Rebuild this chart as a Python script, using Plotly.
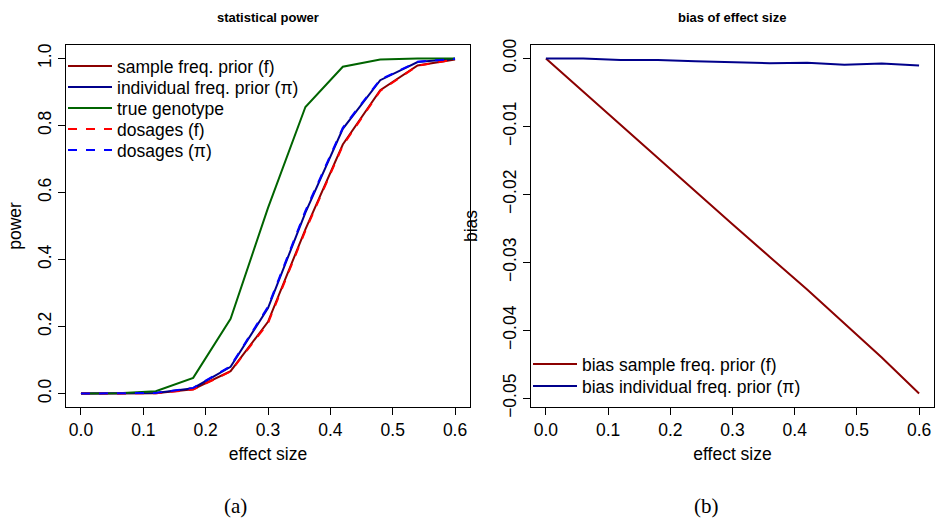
import plotly.graph_objects as go

effect_size = [0.0, 0.06, 0.12, 0.18, 0.24, 0.30, 0.36, 0.42, 0.48, 0.54, 0.60]

power_sample_freq = [0.0, 0.0, 0.001, 0.013, 0.067, 0.214, 0.490, 0.743, 0.905, 0.979, 0.997]
power_individual_freq = [0.0, 0.0, 0.002, 0.016, 0.080, 0.255, 0.540, 0.790, 0.935, 0.989, 0.999]
power_true_genotype = [0.0, 0.001, 0.007, 0.047, 0.223, 0.554, 0.855, 0.975, 0.997, 1.0, 1.0]
power_dosages_f = [0.0, 0.0, 0.001, 0.012, 0.066, 0.210, 0.486, 0.740, 0.903, 0.978, 0.997]
power_dosages_pi = [0.0, 0.0, 0.002, 0.017, 0.082, 0.259, 0.545, 0.793, 0.937, 0.990, 0.999]

bias_sample_freq = [0.0, -0.0049, -0.0098, -0.0146, -0.0195, -0.0244, -0.0292, -0.0340, -0.0390, -0.0440, -0.0493]
bias_individual_freq = [0.0, 0.0, -0.00025, -0.00025, -0.0004, -0.0006, -0.0007, -0.00065, -0.00095, -0.00075, -0.00105]

x_ticks = [0.0, 0.1, 0.2, 0.3, 0.4, 0.5, 0.6]
x_tick_labels = ["0.0", "0.1", "0.2", "0.3", "0.4", "0.5", "0.6"]
power_ticks = [0.0, 0.2, 0.4, 0.6, 0.8, 1.0]
power_tick_labels = ["0.0", "0.2", "0.4", "0.6", "0.8", "1.0"]
bias_ticks = [0.0, -0.01, -0.02, -0.03, -0.04, -0.05]
bias_tick_labels = ["0.00", "\u22120.01", "\u22120.02", "\u22120.03", "\u22120.04", "\u22120.05"]

FONT = "Liberation Sans, Arial, Helvetica, sans-serif"
FS = 17.5
W, H = 935, 522


def px_x(p):
    return p / W


def px_y(p):
    return 1 - p / H


fig = go.Figure()

# each legend entry gets its own legend box so rows can be spaced like the original
legend_specs = []


def add(x, y, name, color, dash, xa, ya, legend, lx, ly):
    fig.add_trace(go.Scatter(x=x, y=y, mode="lines", name=name,
                             line=dict(color=color, width=2, dash=dash),
                             xaxis=xa, yaxis=ya, legend=legend))
    legend_specs.append((legend, lx, ly))


add(effect_size, power_sample_freq, "sample freq. prior (f)", "#8B0000", "solid", "x", "y", "legend", 63, 66)
add(effect_size, power_individual_freq, "individual freq. prior (\u03c0)", "#00008B", "solid", "x", "y", "legend2", 63, 87)
add(effect_size, power_true_genotype, "true genotype", "#006400", "solid", "x", "y", "legend3", 63, 108)
add(effect_size, power_dosages_f, "dosages (f)", "#FF0000", "dash", "x", "y", "legend4", 63, 129)
add(effect_size, power_dosages_pi, "dosages (\u03c0)", "#0000FF", "dash", "x", "y", "legend5", 63, 150)

add(effect_size, bias_sample_freq, "bias sample freq. prior (f)", "#8B0000", "solid", "x2", "y2", "legend6", 528, 364)
add(effect_size, bias_individual_freq, "bias individual freq. prior (\u03c0)", "#00008B", "solid", "x2", "y2", "legend7", 528, 386)

ydom = [px_y(407), px_y(45)]

axis_common = dict(showline=True, mirror=True, linecolor="black", linewidth=1,
                   ticks="outside", ticklen=7, tickcolor="black", tickwidth=1,
                   showgrid=False, zeroline=False, automargin=False,
                   tickfont=dict(family=FONT, size=FS, color="black"))

bias_min = min(bias_sample_freq)
bias_pad = -bias_min * 0.04

fig.update_layout(
    width=W, height=H,
    margin=dict(l=0, r=0, t=0, b=0, pad=0),
    paper_bgcolor="white", plot_bgcolor="white",
    font=dict(family=FONT, size=FS, color="black"),
    xaxis=dict(domain=[px_x(66), px_x(470)], range=[-0.024, 0.624], anchor="y",
               tickvals=x_ticks, ticktext=x_tick_labels,
               title=dict(text="effect size", font=dict(size=FS), standoff=8), **axis_common),
    yaxis=dict(domain=ydom, range=[-0.04, 1.04], anchor="x",
               tickvals=power_ticks, ticktext=power_tick_labels, tickangle=-90,
               title=dict(text="power", font=dict(size=FS), standoff=8), **axis_common),
    xaxis2=dict(domain=[px_x(531), px_x(934)], range=[-0.024, 0.624], anchor="y2",
                tickvals=x_ticks, ticktext=x_tick_labels,
                title=dict(text="effect size", font=dict(size=FS), standoff=8), **axis_common),
    yaxis2=dict(domain=ydom, range=[bias_min - bias_pad, bias_pad], anchor="x2",
                tickvals=bias_ticks, ticktext=bias_tick_labels, tickangle=-90,
                title=dict(text="bias", font=dict(size=FS), standoff=17), **axis_common),
    showlegend=True,
)

for name, lx, ly in legend_specs:
    fig.update_layout({name: dict(x=px_x(lx), y=px_y(ly), xanchor="left", yanchor="middle",
                                  bgcolor="rgba(0,0,0,0)", borderwidth=0, itemwidth=44,
                                  font=dict(family=FONT, size=FS, color="black"))})

annotations = [
    dict(text="<b>statistical power</b>", x=px_x(268), y=px_y(18), xref="paper", yref="paper",
         xanchor="center", yanchor="middle",
         showarrow=False, font=dict(family=FONT, size=13, color="black")),
    dict(text="<b>bias of effect size</b>", x=px_x(732), y=px_y(18), xref="paper", yref="paper",
         xanchor="center", yanchor="middle",
         showarrow=False, font=dict(family=FONT, size=13, color="black")),
    dict(text="(a)", x=px_x(236), y=px_y(506), xref="paper", yref="paper",
         xanchor="center", yanchor="middle",
         showarrow=False, font=dict(family="Liberation Serif, DejaVu Serif, serif", size=21, color="black")),
    dict(text="(b)", x=px_x(706), y=px_y(506), xref="paper", yref="paper",
         xanchor="center", yanchor="middle",
         showarrow=False, font=dict(family="Liberation Serif, DejaVu Serif, serif", size=21, color="black")),
]
fig.update_layout(annotations=annotations)

fig.write_html("out.html", config={"displayModeBar": False},
               post_script="document.body.style.margin='0';document.body.style.overflow='hidden';")
